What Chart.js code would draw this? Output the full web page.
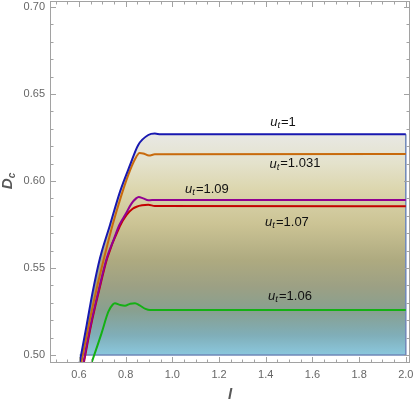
<!DOCTYPE html>
<html>
<head>
<meta charset="utf-8">
<script src="https://cdn.jsdelivr.net/npm/chart.js@4.4.0/dist/chart.umd.min.js"></script>
<style>
  html, body { margin: 0; padding: 0; background: #fff; }
</style>
</head>
<body>
<canvas id="chart" width="414" height="406"></canvas>
<script>
// D_c against l, one curve per u_t
const ut1X = [0.598, 0.633, 0.659, 0.690, 0.733, 0.776, 0.819, 0.854, 0.897, 0.925, 0.950, 2.0];
const ut1Y = [0.4920, 0.5172, 0.5364, 0.5556, 0.5747, 0.5939, 0.6092, 0.6207, 0.6264, 0.6272, 0.6268, 0.6268];

const ut1031X = [0.605, 0.640, 0.673, 0.710, 0.744, 0.780, 0.811, 0.840, 0.860, 0.875, 0.900, 0.925, 2.0];
const ut1031Y = [0.4920, 0.5160, 0.5364, 0.5570, 0.5747, 0.5910, 0.6034, 0.6125, 0.6160, 0.6158, 0.6146, 0.6153, 0.6155];

const ut109X = [0.614, 0.650, 0.683, 0.719, 0.748, 0.773, 0.800, 0.825, 0.845, 0.856, 0.875, 0.897, 0.930, 2.0];
const ut109Y = [0.4920, 0.5172, 0.5364, 0.5556, 0.5660, 0.5747, 0.5810, 0.5870, 0.5900, 0.5908, 0.5900, 0.5889, 0.5891, 0.5891];

const ut107X = [0.616, 0.652, 0.685, 0.721, 0.775, 0.804, 0.830, 0.847, 0.870, 0.897, 0.925, 2.0];
const ut107Y = [0.4920, 0.5172, 0.5364, 0.5556, 0.5740, 0.5805, 0.5840, 0.5852, 0.5860, 0.5863, 0.5856, 0.5855];

const ut106X = [0.645, 0.697, 0.726, 0.745, 0.754, 0.775, 0.797, 0.820, 0.840, 0.860, 0.885, 0.904, 2.0];
const ut106Y = [0.4920, 0.5126, 0.5249, 0.5290, 0.5297, 0.5288, 0.5283, 0.5295, 0.5297, 0.5285, 0.5265, 0.5258, 0.5258];

// outline of the shaded region (bottom at 0.50, right side at l = 2)
const edgeX = [0.603, 2.0, 2.0];
const edgeY = [0.50, 0.50, 0.6268];

const xTicks = [0.6, 0.8, 1.0, 1.2, 1.4, 1.6, 1.8, 2.0];
const xTickLabels = ['0.6', '0.8', '1.0', '1.2', '1.4', '1.6', '1.8', '2.0'];
const yTicks = [0.50, 0.55, 0.60, 0.65, 0.70];
const yTickLabels = ['0.50', '0.55', '0.60', '0.65', '0.70'];

const curveNames = ['1', '1.031', '1.09', '1.07', '1.06'];
// where each u_t label sits, in data coords
const nameAtX = [1.474, 1.525, 1.148, 1.491, 1.504];
const nameAtY = [0.6339, 0.6098, 0.5954, 0.5764, 0.5339];

const FONT = '"Liberation Sans", Arial, sans-serif';
const pts = (xs, ys) => xs.map((x, i) => ({ x: x, y: ys[i] }));

function regionFill(c) {
  const chart = c.chart;
  if (!chart.chartArea) return 'rgba(0,0,0,0)';
  const y = chart.scales.y;
  const top = y.getPixelForValue(0.6268);
  const bot = y.getPixelForValue(0.50);
  const g = chart.ctx.createLinearGradient(0, top, 0, bot);
  g.addColorStop(0.00, '#e8e8e4');
  g.addColorStop(0.13, '#e4e2cc');
  g.addColorStop(0.25, '#dcd6ae');
  g.addColorStop(0.41, '#cbc394');
  g.addColorStop(0.57, '#aeaa80');
  g.addColorStop(0.69, '#9ca084');
  g.addColorStop(0.80, '#88a090');
  g.addColorStop(0.91, '#80aeb8');
  g.addColorStop(1.00, '#8bc8de');
  return g;
}

function curve(label, data, color, order) {
  return {
    label: label,
    data: data,
    borderColor: color,
    borderWidth: 2,
    pointRadius: 0,
    fill: false,
    cubicInterpolationMode: 'monotone',
    order: order
  };
}

const blue = curve('u_t=1', pts(ut1X, ut1Y), '#1818b0', 1);
blue.fill = { target: { value: 0.5 }, below: 'rgba(0,0,0,0)' };
blue.backgroundColor = regionFill;

const frame = {
  id: 'frame',
  afterDraw(chart) {
    const { ctx, chartArea: a, scales } = chart;
    const xs = scales.x, ys = scales.y;
    ctx.save();
    ctx.strokeStyle = '#a2a2a2';
    ctx.lineWidth = 1;
    ctx.strokeRect(a.left + 0.5, a.top + 0.5, a.right - a.left - 1, a.bottom - a.top - 1);

    ctx.beginPath();
    // x ticks, bottom and top, major every 0.2, minor every 0.05
    for (let k = 10; k <= 40; k++) {
      const v = k * 0.05;
      const px = Math.round(xs.getPixelForValue(v)) + 0.5;
      if (px < a.left || px > a.right) continue;
      const len = (k % 4 === 0) ? 6 : 3.5;
      ctx.moveTo(px, a.bottom); ctx.lineTo(px, a.bottom - len);
      ctx.moveTo(px, a.top); ctx.lineTo(px, a.top + len);
    }
    // y ticks, left and right, major every 0.05, minor every 0.01
    for (let k = 50; k <= 70; k++) {
      const v = k * 0.01;
      const py = Math.round(ys.getPixelForValue(v)) + 0.5;
      if (py < a.top || py > a.bottom) continue;
      const len = (k % 5 === 0) ? 6 : 3.5;
      ctx.moveTo(a.left, py); ctx.lineTo(a.left + len, py);
      ctx.moveTo(a.right, py); ctx.lineTo(a.right - len, py);
    }
    ctx.stroke();

    // axis titles
    ctx.fillStyle = '#585858';
    ctx.textBaseline = 'middle';
    ctx.save();
    ctx.translate(8, 181);
    ctx.rotate(-Math.PI / 2);
    ctx.font = 'italic bold 15px ' + FONT;
    const dw = ctx.measureText('D').width;
    ctx.font = 'italic bold 10px ' + FONT;
    const cw = ctx.measureText('c').width;
    const start = -(dw + cw) / 2;
    ctx.textAlign = 'left';
    ctx.font = 'italic bold 15px ' + FONT;
    ctx.fillText('D', start, 0);
    ctx.font = 'italic bold 10px ' + FONT;
    ctx.fillText('c', start + dw, 4);
    ctx.restore();

    ctx.textAlign = 'center';
    ctx.font = 'italic bold 15px ' + FONT;
    ctx.fillText('l', 230, 395);

    // u_t labels
    ctx.fillStyle = '#111';
    ctx.textAlign = 'left';
    curveNames.forEach((name, i) => {
      const cx = xs.getPixelForValue(nameAtX[i]);
      const cy = ys.getPixelForValue(nameAtY[i]);
      ctx.font = 'italic 13px ' + FONT;
      const uw = ctx.measureText('u').width;
      ctx.font = 'italic 9.5px ' + FONT;
      const tw = ctx.measureText('t').width + 1;
      ctx.font = '13px ' + FONT;
      const rw = ctx.measureText('=' + name).width;
      let x0 = cx - (uw + tw + rw) / 2;
      ctx.font = 'italic 13px ' + FONT;
      ctx.fillText('u', x0, cy);
      ctx.font = 'italic 9.5px ' + FONT;
      ctx.fillText('t', x0 + uw, cy + 3.5);
      ctx.font = '13px ' + FONT;
      ctx.fillText('=' + name, x0 + uw + tw, cy);
    });
    ctx.restore();
  }
};

new Chart(document.getElementById('chart'), {
  type: 'line',
  data: {
    datasets: [
      blue,
      curve('u_t=1.031', pts(ut1031X, ut1031Y), '#c86a0c', 2),
      curve('u_t=1.09', pts(ut109X, ut109Y), '#920092', 3),
      curve('u_t=1.07', pts(ut107X, ut107Y), '#c40000', 4),
      curve('u_t=1.06', pts(ut106X, ut106Y), '#14b014', 5),
      {
        label: 'edge',
        data: pts(edgeX, edgeY),
        borderColor: '#6f88b8',
        borderWidth: 1.5,
        pointRadius: 0,
        fill: false,
        tension: 0,
        order: 10
      }
    ]
  },
  options: {
    responsive: false,
    animation: false,
    devicePixelRatio: 1,
    layout: { padding: { top: 1, right: 4, left: 0, bottom: 0 } },
    plugins: {
      legend: { display: false },
      tooltip: { enabled: false },
      filler: { drawTime: 'beforeDatasetsDraw' }
    },
    scales: {
      x: {
        type: 'linear',
        min: 0.476,
        max: 2.018,
        grid: { display: false, drawTicks: false },
        border: { display: false },
        afterBuildTicks: (s) => { s.ticks = xTicks.map(v => ({ value: v })); },
        afterFit: (s) => { s.height = 43; s.paddingLeft = 0; s.paddingRight = 0; },
        ticks: {
          padding: 5,
          color: '#666',
          font: { family: FONT, size: 11 },
          maxRotation: 0,
          autoSkip: false,
          callback: (v, i) => xTickLabels[i]
        }
      },
      y: {
        type: 'linear',
        min: 0.4954,
        max: 0.7034,
        grid: { display: false, drawTicks: false },
        border: { display: false },
        afterBuildTicks: (s) => { s.ticks = yTicks.map(v => ({ value: v })); },
        afterFit: (s) => { s.width = 50; s.paddingTop = 0; s.paddingBottom = 0; },
        ticks: {
          padding: 5,
          color: '#666',
          font: { family: FONT, size: 11 },
          autoSkip: false,
          callback: (v, i) => yTickLabels[i]
        }
      }
    }
  },
  plugins: [frame]
});
</script>
</body>
</html>
